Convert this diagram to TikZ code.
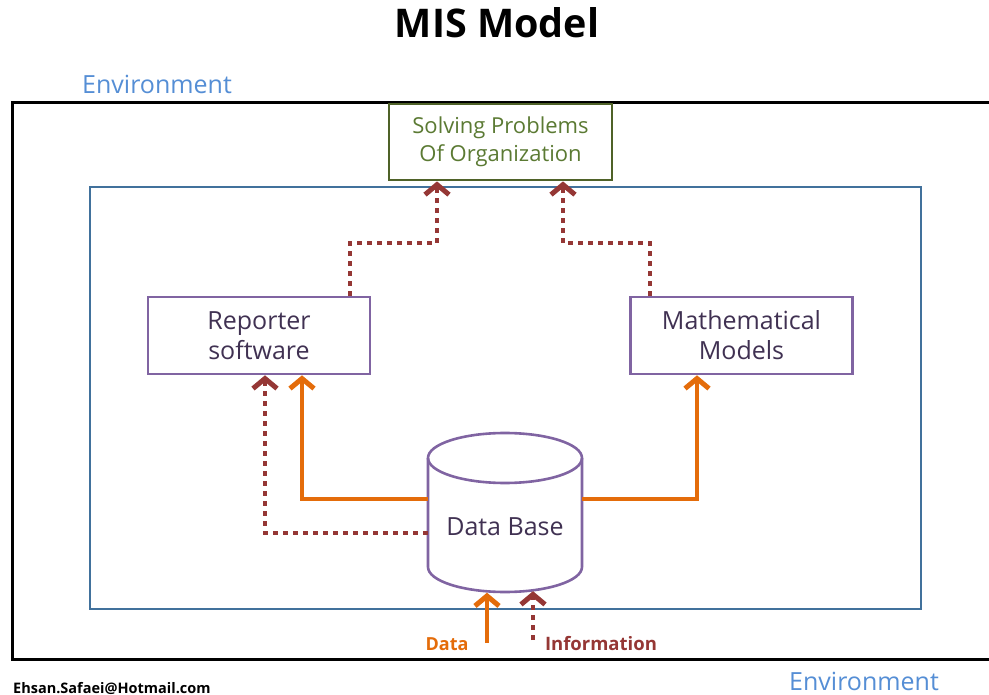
\documentclass[tikz,border=0pt]{standalone}
\usepackage{fontspec}
\setmainfont{Open Sans}
\usetikzlibrary{arrows.meta}
\definecolor{orng}{HTML}{E46C0A}
\definecolor{dred}{HTML}{953735}
\definecolor{purp}{HTML}{8064A2}
\definecolor{bbox}{HTML}{41719C}
\definecolor{grn}{HTML}{4F6228}
\definecolor{grntxt}{HTML}{5B7A33}
\definecolor{envc}{HTML}{558ED5}
\definecolor{ptxt}{HTML}{403152}
\tikzset{
  procbox/.style={draw=purp,line width=2.6pt,minimum width=222pt,minimum height=77pt,inner sep=0pt,align=center,text=ptxt,font=\fontsize{25}{30}\selectfont},
  oarrow/.style={draw=orng,line width=4.5pt,-{Straight Barb[length=10pt,width=24pt,line width=5pt]}},
  rarrow/.style={draw=dred,line width=4.5pt,dash pattern=on 5pt off 5pt,-{Straight Barb[length=10pt,width=24pt,line width=5pt]}},
}
\begin{document}
\begin{tikzpicture}[x=1pt,y=-1pt]
\useasboundingbox (0,0) rectangle (989,695);
\node[font=\fontsize{39.5}{44}\selectfont\bfseries] (title) at (497,23) {MIS Model};
\node[text=envc,font=\fontsize{25}{28}\selectfont] (env1) at (157,84) {Environment};
\node[text=envc,font=\fontsize{25}{28}\selectfont,inner sep=1pt] (env2) at (864,681) {Environment};
\node[font=\fontsize{14.5}{16}\selectfont\bfseries,anchor=west,inner sep=0pt] (mail) at (13,688) {Ehsan.Safaei@Hotmail.com};
% outer environment box
\draw[line width=3pt] (1000,103) -- (12,103) -- (12,659) -- (1000,659);
% inner system box
\draw[draw=bbox,line width=2.6pt] (90,187) rectangle (921,609);
% goal
\node[draw=grn,fill=white,line width=2.8pt,minimum width=223pt,minimum height=76pt,inner sep=0pt,align=center,text=grntxt,font=\fontsize{22}{28}\selectfont] (goal) at (500.5,142) {Solving Problems\\Of Organization};
\node[procbox] (rep) at (259,335.5) {Reporter\\software};
\node[procbox] (math) at (741.5,335.5) {Mathematical\\Models};
% database cylinder
\node[minimum width=154pt,minimum height=159pt,inner sep=0pt] (db) at (505,512.5) {};
\draw[draw=purp,line width=2.6pt,fill=white] (428,458) -- (428,567) arc[start angle=180,end angle=360,x radius=77,y radius=-25] -- (582,458);
\draw[draw=purp,line width=2.6pt] (505,458) ellipse[x radius=77,y radius=25];
\node[text=ptxt,font=\fontsize{25}{28}\selectfont] (dbt) at (505,527) {Data Base};
% connectors
\draw[oarrow] ([yshift=13.5pt]db.west) -| ([xshift=43pt]rep.south);
\draw[rarrow] ([yshift=-20.5pt]db.west) -| ([xshift=6pt]rep.south);
\draw[oarrow] ([yshift=13.5pt]db.east) -| ([xshift=-44.5pt]math.south);
\draw[rarrow] ([xshift=91pt]rep.north) |- (437,243) -- ([xshift=-63.5pt]goal.south);
\draw[rarrow] ([xshift=-91.5pt]math.north) |- (563,243) -- ([xshift=62.5pt]goal.south);
\coordinate (din) at (487,643);
\coordinate (iin) at (533,640);
\draw[oarrow] (din) -- ([xshift=-18pt,yshift=-0.5pt]db.south);
\draw[rarrow] (iin) -- ([xshift=28pt,yshift=1pt]db.south);
\node[text=orng,font=\fontsize{18}{20}\selectfont\bfseries] (dlab) at (447,644) {Data};
\node[text=dred,font=\fontsize{18.5}{20}\selectfont\bfseries] (ilab) at (601,644) {Information};
\end{tikzpicture}
\end{document}
